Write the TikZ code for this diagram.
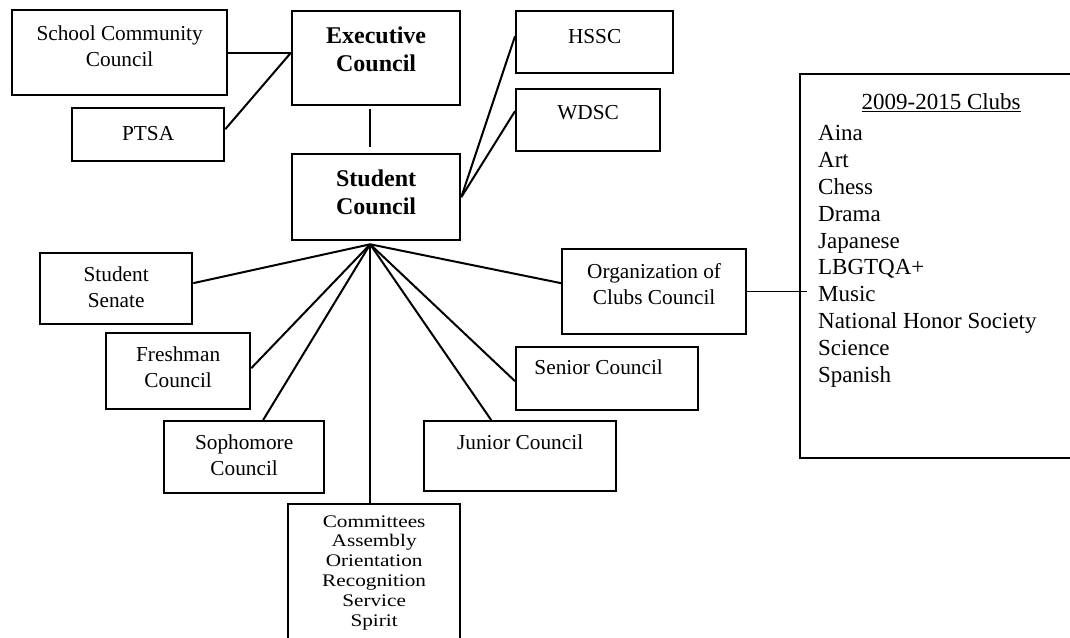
\documentclass[tikz,border=0pt]{standalone}
\usepackage{fontspec}
\setmainfont{Liberation Serif}
\newfontfamily\widefont[FakeStretch=1.2]{Liberation Serif}
\usetikzlibrary{calc}

% box text: width, height, first baseline from top, lines
\newcommand{\boxtext}[4]{\parbox[c][#2][t]{#1}{\centering\rule{0pt}{#3}#4}}

\begin{document}
\begin{tikzpicture}[x=1pt, y=-1pt, line width=2pt,
    orgbox/.style={draw, line width=2.3pt, anchor=north west, inner sep=0pt,
      font=\fontsize{21.3}{26}\selectfont},
    headbox/.style={orgbox, font=\fontsize{24}{28}\selectfont\bfseries}]
    \path[use as bounding box, clip] (0,0) rectangle (1070,637);

    % Top row
    \node[orgbox] (scc) at (11,9) {\boxtext{215pt}{85pt}{30pt}{School Community\\Council}};
    \node[orgbox] (ptsa) at (71,107) {\boxtext{152pt}{53pt}{32pt}{PTSA}};
    \node[headbox] (exec) at (291,10) {\boxtext{168pt}{94pt}{32pt}{Executive\\Council}};
    \node[orgbox] (hssc) at (515,10) {\boxtext{157pt}{62pt}{32pt}{HSSC}};
    \node[orgbox] (wdsc) at (515,88) {\boxtext{144pt}{62pt}{30pt}{WDSC}};
    \node[headbox] (sc) at (291,153) {\boxtext{168pt}{86pt}{32pt}{Student\\Council}};

    % Councils below
    \node[orgbox] (senate) at (39,252) {\boxtext{152pt}{71pt}{28pt}{Student\\Senate}};
    \node[orgbox] (fresh) at (105,332) {\boxtext{144pt}{76pt}{28pt}{Freshman\\Council}};
    \node[orgbox] (soph) at (163,420) {\boxtext{160pt}{72pt}{28pt}{Sophomore\\Council}};
    \node[orgbox] (occ) at (561,248) {\boxtext{184pt}{85pt}{29pt}{Organization of\\Clubs Council}};
    \node[orgbox] (senior) at (515,346) {\boxtext{182pt}{63pt}{27pt}{\hspace*{-17pt}Senior Council}};
    \node[orgbox] (junior) at (423,420) {\boxtext{192pt}{70pt}{28pt}{Junior Council}};
    \node[orgbox, font=\widefont\fontsize{17.7}{19.8}\selectfont] (com) at (287,503)
        {\boxtext{172pt}{150pt}{23pt}{Committees\\Assembly\\Orientation\\Recognition\\Service\\Spirit}};

    % Clubs list
    \node[orgbox, font=\fontsize{23}{26.8}\selectfont] (clubs) at (799,73) {\parbox[c][384pt][t]{282pt}{%
        {\centering\rule{0pt}{35pt}\underline{2009-2015 Clubs}\par}\vspace{5pt}
        \raggedright\leftskip=18pt
        Aina\\Art\\Chess\\Drama\\Japanese\\LBGTQA+\\Music\\National Honor Society\\Science\\Spanish}};

    % Connectors
    \coordinate (join) at (scc.east -| exec.west);
    \coordinate (hub) at ([xshift=-6pt, yshift=-3pt]sc.south);
    \draw (scc.east) -- (join);
    \draw ([yshift=5.5pt]ptsa.east) -- (join);
    \draw ([xshift=-6pt, yshift=-3pt]exec.south) -- ([xshift=-6pt, yshift=6pt]sc.north);
    \draw (sc.east) -- ([yshift=6pt]hssc.west);
    \draw (sc.east) -- ([yshift=9pt]wdsc.west);
    \draw (hub) -- ([yshift=5.5pt]senate.east);
    \draw (hub) -- ([yshift=3pt]fresh.east);
    \draw (hub) -- ([xshift=19pt]soph.north);
    \draw (hub) -- (hub |- com.north);
    \draw (hub) -- ([xshift=-29pt]junior.north);
    \draw (hub) -- ([yshift=-2.5pt]senior.west);
    \draw (hub) -- ([yshift=8.5pt]occ.west);
    \draw[line width=1.6pt] (occ.east) -- ([xshift=8pt]occ.east -| clubs.west);
\end{tikzpicture}
\end{document}
